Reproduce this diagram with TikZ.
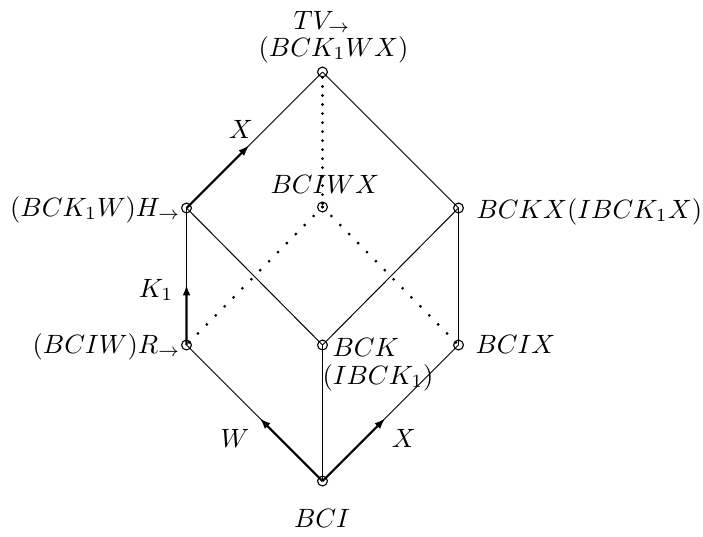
\documentclass[tikz,border=0pt]{standalone}
\usepackage{graphicx}
\usetikzlibrary{calc,arrows.meta}
\newcommand{\lbl}[1]{\scalebox{0.94}{$#1$}}
\begin{document}
\begin{tikzpicture}[x=0.355pt,y=-0.355pt,
  vtx/.style={circle,draw,inner sep=0pt,minimum size=3.5pt,line width=0.4pt},
  edge/.style={line width=0.35pt},
  dotv/.style={line width=1.1pt,line cap=round,dash pattern=on 0pt off 3.2pt},
  dotd/.style={line width=1.1pt,line cap=round,dash pattern=on 0pt off 4.5pt},
  arr/.style={line width=0.75pt,-{Latex[length=3.8pt,width=2.8pt]}},
  lab/.style={inner sep=0pt}]
\useasboundingbox (0,0) rectangle (703,536);
% vertices
\node[vtx] (top) at (322.5,72) {};
\node[vtx] (bciwx) at (322.5,207) {};
\node[vtx] (h) at (186.5,208) {};
\node[vtx] (bckx) at (458.5,208) {};
\node[vtx] (r) at (186.5,345) {};
\node[vtx] (bck) at (322.5,345) {};
\node[vtx] (bcix) at (458.5,345) {};
\node[vtx] (bci) at (322.5,481) {};
% solid edges
\draw[edge] (bci.center) -- (r.center);
\draw[edge] (bci.center) -- (bck.center);
\draw[edge] (bci.center) -- (bcix.center);
\draw[edge] (r.center) -- (h.center);
\draw[edge] (bck.center) -- (h.center);
\draw[edge] (bck.center) -- (bckx.center);
\draw[edge] (bcix.center) -- (bckx.center);
\draw[edge] (h.center) -- (top.center);
\draw[edge] (bckx.center) -- (top.center);
% arrows
\draw[arr] (bci.center) -- ($(bci.center)!0.46!(r.center)$);
\draw[arr] (bci.center) -- ($(bci.center)!0.46!(bcix.center)$);
\draw[arr] (r.center) -- ($(r.center)!0.44!(h.center)$);
\draw[arr] (h.center) -- ($(h.center)!0.46!(top.center)$);
% dotted edges
\draw[dotv] (top.south) -- (bciwx.center);
\draw[dotd] (bciwx.center) -- (r.center);
\draw[dotd] (bciwx.center) -- (bcix.center);
% labels
\node[lab,anchor=base west] (ltop1) at (293,29) {\lbl{TV_{\to}}};
\node[lab,anchor=base west] (ltop2) at (258,56) {\lbl{(BCK_1WX)}};
\node[lab,anchor=base west] (lbciwx) at (270,193) {\lbl{BCIWX}};
\node[lab,anchor=base east] (lh) at (181,216) {\lbl{(BCK_1W)H_{\to}}};
\node[lab,anchor=base west] (lbckx) at (476,218) {\lbl{BCKX(IBCK_1X)}};
\node[lab,anchor=base east] (lr) at (181,353) {\lbl{(BCIW)R_{\to}}};
\node[lab,anchor=base west] (lbck1) at (332,356) {\lbl{BCK}};
\node[lab,anchor=base west] (lbck2) at (322,384) {\lbl{(IBCK_1)}};
\node[lab,anchor=base west] (lbcix) at (475,353) {\lbl{BCIX}};
\node[lab,anchor=base] (lbci) at (322,527) {\lbl{BCI}};
\node[lab] (lx1) at (241,129) {\lbl{X}};
\node[lab,anchor=base] (lk) at (156,297) {\lbl{K_1}};
\node[lab] (lw) at (235,438) {\lbl{W}};
\node[lab] (lx2) at (404,438) {\lbl{X}};
\end{tikzpicture}
\end{document}
